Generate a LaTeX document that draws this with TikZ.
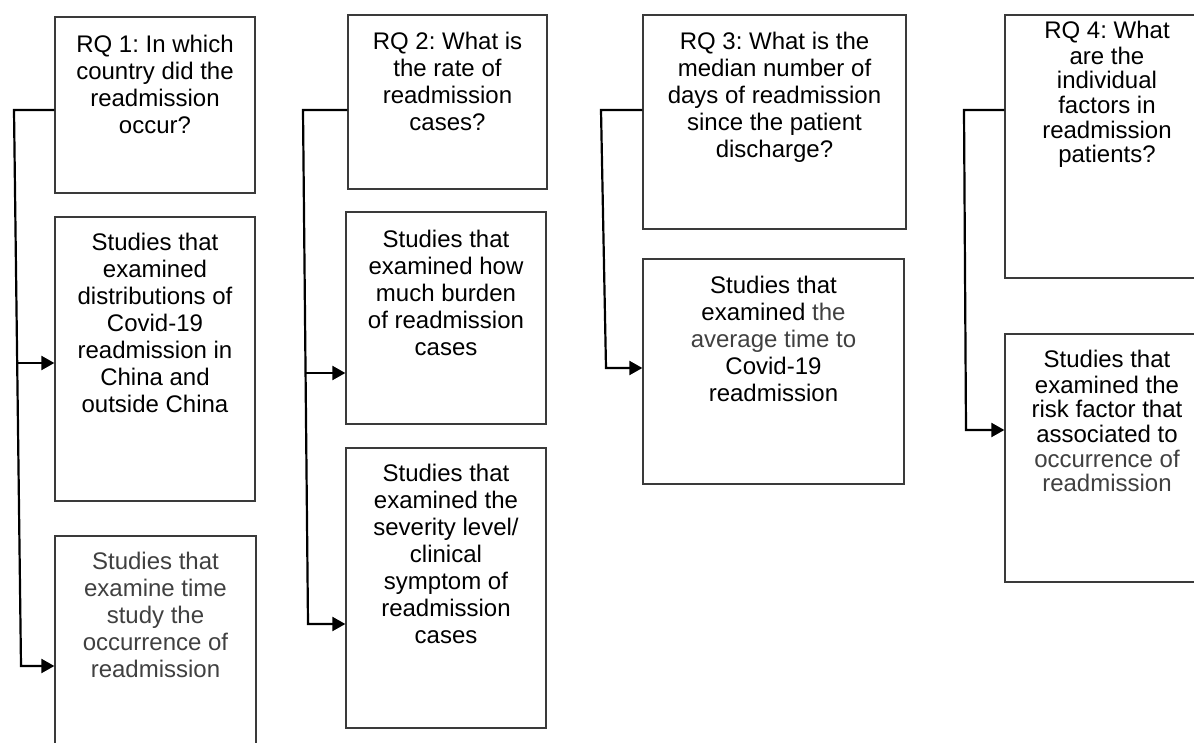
\documentclass[tikz,border=0pt]{standalone}
\usepackage{fontspec}
\setmainfont{Liberation Sans}
\usetikzlibrary{arrows.meta}
\definecolor{boxline}{HTML}{3A3A3A}
\definecolor{txtgray}{HTML}{404040}
\frenchspacing
\tikzset{
  box/.style={draw=boxline, line width=1.3pt, inner sep=0pt, rectangle},
  txt/.style={inner sep=0pt, align=center, anchor=north, text=black,
              font=\fontsize{24}{27}\selectfont},
  txtb/.style={txt, font=\fontsize{24}{24.6}\selectfont},
  conn/.style={draw=black, line width=2.2pt},
  arr/.style={conn, -{Triangle[length=13pt,width=14pt]}}
}
\begin{document}
\begin{tikzpicture}[x=1pt,y=-1pt]
\useasboundingbox (0,0) rectangle (1194,743);
\clip (0,0) rectangle (1194,743);
\fill[white] (0,0) rectangle (1194,743);

% boxes
\node[box, minimum width=200pt, minimum height=176pt] (rq1) at (155,105) {};
\node[box, minimum width=200pt, minimum height=284pt] (b12) at (155,359) {};
\node[box, minimum width=201pt, minimum height=234pt] (b13) at (155.5,653) {};
\node[box, minimum width=199pt, minimum height=174pt] (rq2) at (447.5,102) {};
\node[box, minimum width=200pt, minimum height=212pt] (b22) at (446,318) {};
\node[box, minimum width=200pt, minimum height=280pt] (b23) at (446,588) {};
\node[box, minimum width=263pt, minimum height=214pt] (rq3) at (774.5,122) {};
\node[box, minimum width=261pt, minimum height=225pt] (b32) at (773.5,371.5) {};
\node[box, minimum width=204pt, minimum height=263pt] (rq4) at (1107,146.5) {};
\node[box, minimum width=204pt, minimum height=248pt] (b42) at (1107,458) {};

% texts
\node[txt] (t11) at (155,33) {\strut RQ 1: In which\\country did the\\readmission\\occur?};
\node[txt] (t12) at (155,231) {\strut Studies that\\examined\\distributions of\\Covid-19\\readmission in\\China and\\outside China};
\node[txt, text=txtgray] (t13) at (155.5,550) {\strut Studies that\\examine time\\study the\\occurrence of\\readmission};
\node[txt] (t21) at (447.5,30) {\strut RQ 2: What is\\the rate of\\readmission\\cases?};
\node[txt] (t22) at (446,228) {\strut Studies that\\examined how\\much burden\\of readmission\\cases};
\node[txt] (t23) at (446,462) {\strut Studies that\\examined the\\severity level/\\clinical\\symptom of\\readmission\\cases};
\node[txt] (t31) at (774.5,30) {\strut RQ 3: What is the\\median number of\\days of readmission\\since the patient\\discharge?};
\node[txt] (t32) at (773.5,274) {\strut Studies that\\examined {\color{txtgray}the}\\{\color{txtgray}average time to}\\Covid-19\\readmission};
\node[txtb] (t41) at (1107,21) {\strut RQ 4: What\\are the\\individual\\factors in\\readmission\\patients?};
\node[txtb] (t42) at (1107,350) {\strut Studies that\\examined the\\risk factor that\\associated to\\{\color{txtgray}occurrence of}\\{\color{txtgray}readmission}};

% connector corners
\coordinate (c1t) at (14,110);
\coordinate (c1b) at (21,666);
\coordinate (c1m) at (17.2,363);
\coordinate (c2t) at (303,110);
\coordinate (c2b) at (308,624);
\coordinate (c2m) at (305.6,373);
\coordinate (c3t) at (601,110);
\coordinate (c3b) at (606,368);
\coordinate (c4t) at (964,110);
\coordinate (c4b) at (966,430);

% connectors
\draw[arr] (c1t -| rq1.west) -- (c1t) -- (c1b) -- (c1b -| b13.west);
\draw[arr] (c1m) -- (c1m -| b12.west);
\draw[arr] (c2t -| rq2.west) -- (c2t) -- (c2b) -- (c2b -| b23.west);
\draw[arr] (c2m) -- (c2m -| b22.west);
\draw[arr] (c3t -| rq3.west) -- (c3t) -- (c3b) -- (c3b -| b32.west);
\draw[arr] (c4t -| rq4.west) -- (c4t) -- (c4b) -- (c4b -| b42.west);
\end{tikzpicture}
\end{document}
